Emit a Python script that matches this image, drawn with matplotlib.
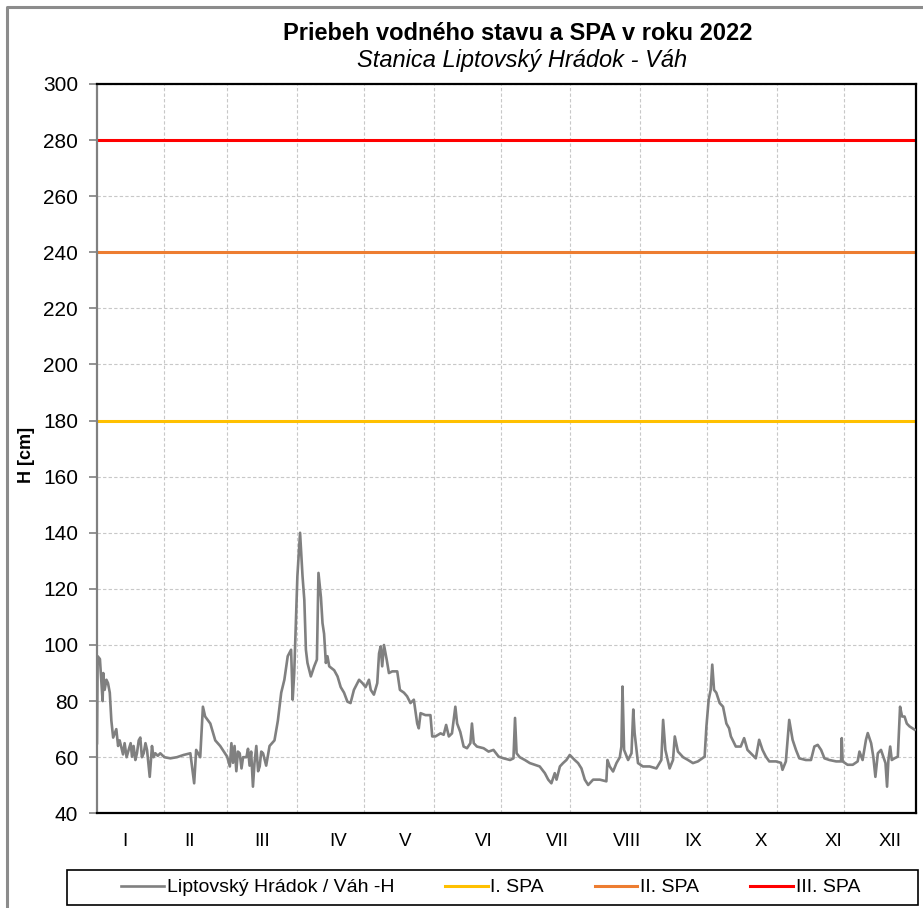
import matplotlib
matplotlib.use("Agg")
import matplotlib.pyplot as plt
from matplotlib.lines import Line2D
from matplotlib.patches import Rectangle

plt.rcParams['font.family'] = ['Liberation Sans', 'DejaVu Sans']

# day of year (Jan 1 = 0) and water level H [cm]
day = [1.0, 1.3, 2.3, 3.5, 3.8, 4.4, 5.2, 5.9, 6.7, 7.4, 8.2, 9.6, 10.4, 11.1, 12.6, 13.3,
       14.2, 15.1, 16.0, 16.6, 17.3, 18.1, 18.8, 19.6, 20.3, 21.0, 21.8, 22.6, 23.3, 24.5, 25.5,
       26.2, 27.0, 28.1, 29.2, 31.0,
       33.7, 36.6, 39.6, 42.6, 44.3, 45.2, 47.0, 48.2, 49.2, 51.5, 53.7, 55.9,
       59.0, 60.2, 60.9, 61.6, 62.3, 63.1, 63.8, 64.6, 65.4, 66.1, 67.6, 68.3, 69.0, 69.7,
       70.5, 71.2, 72.0, 72.8, 73.5, 74.2, 75.0, 76.4,
       77.9, 80.1, 81.6, 83.1, 84.5, 86.0, 87.5, 88.2, 88.9, 90.3, 91.5, 92.6,
       93.4, 94.1, 94.8, 96.3, 97.8, 99.0, 99.7, 100.8, 101.5, 102.2, 103.0,
       103.7, 104.5, 106.7, 108.2, 109.6, 111.1, 112.6, 114.0, 115.5, 117.8,
       119.3, 120.7, 122.2, 123.0, 124.4, 125.9, 126.7, 127.4, 128.1, 128.9,
       130.1, 131.1, 132.6, 134.8, 136.0, 137.8, 139.2, 140.7, 142.2, 143.7,
       144.4, 145.2, 147.4, 149.6, 150.4, 151.8, 154.1, 155.5, 156.6, 157.8,
       159.2, 160.7, 161.5, 162.9, 164.4, 165.9, 167.4, 168.1, 168.9, 170.3,
       173.3, 175.5, 177.7, 180.0, 182.2, 185.1, 186.6, 187.3, 188.0, 189.4,
       191.7, 193.9, 196.1, 198.3, 200.6, 202.1, 203.5, 205.0, 205.8, 207.3,
       208.7, 210.2, 211.7, 213.9, 215.4, 216.9, 218.4, 219.9, 222.1, 225.1,
       228.0, 228.5, 229.5, 231.0, 232.5, 234.0, 234.7, 235.2, 235.9, 237.7,
       239.2, 240.0, 240.6, 242.1, 244.3, 247.3, 250.3, 252.5, 253.3, 254.3,
       256.2, 257.7, 258.5, 259.9, 262.2, 264.4, 266.6, 268.8, 271.8, 272.6,
       273.6, 274.5, 275.2, 276.0, 277.0, 278.5, 280.0, 281.5, 282.7, 283.5,
       285.7, 287.9, 289.4, 290.9, 293.1, 294.6, 296.1, 297.6, 299.1, 300.6,
       303.6, 305.8, 306.5, 308.0, 309.5, 311.0, 312.5, 314.0, 316.9, 319.2,
       320.7, 322.2, 323.7, 325.2, 327.4, 330.4, 332.6, 332.9, 333.3, 335.5,
       337.8, 340.0, 340.8, 342.2, 343.7, 344.5, 346.0, 347.0, 347.9, 349.0,
       350.4, 351.5, 352.4, 353.1, 353.7, 354.5, 355.2, 356.4, 357.9, 358.9,
       359.8, 360.9, 361.9, 363.1, 365.4]
h = [65, 96, 95, 80, 90, 84, 87.6, 86.4, 83, 73, 67, 70, 64, 66, 61, 65,
     60, 62.6, 65, 60.2, 64, 59, 61.4, 66, 67, 60, 61.4, 65, 62.6, 53, 64,
     60, 61.4, 60.5, 61.4, 60,
     59.6, 60, 60.8, 61.4, 50.7, 62.6, 60, 78, 74.5, 72, 66, 64,
     60.2, 56.7, 65, 58, 64, 55, 62, 61.4, 56, 60, 60, 63, 57, 62,
     49.5, 58, 64, 55, 56.7, 62, 61.4, 57,
     64, 66, 73, 83, 87.6, 96, 98.3, 80.5, 90, 124.5, 140, 124.5,
     116, 98.3, 93.6, 88.8, 92.4, 94.8, 125.7, 117, 107.8, 104, 93.6,
     96, 92.4, 91, 88.8, 85, 83, 79.8, 79.3, 84, 87.6,
     86.4, 85, 87.6, 84, 82.3, 86.4, 97, 99.5, 92.4, 100,
     94.8, 90, 90.6, 90.6, 84, 83, 81.7, 79.3, 80.5, 72,
     70.3, 75.7, 75, 75, 67.4, 67.4, 68.5, 68, 71.5, 67.4,
     68.5, 78, 72, 69, 63.8, 63.2, 65, 72, 65, 63.8,
     63.2, 62, 62.6, 60.2, 59.6, 59, 59.6, 74, 61.4, 60,
     59, 57.9, 57.3, 56.7, 54.3, 52, 50.7, 54.3, 52, 56.7,
     57.9, 59, 60.8, 59, 57.9, 56, 52, 50.1, 52, 52,
     51.4, 59, 56.7, 54.9, 57.9, 60, 63.8, 85.2, 62.6, 59,
     61.4, 77, 68.6, 57.9, 56.7, 56.7, 56, 59, 73.3, 62.6,
     56, 59, 67.4, 62, 60, 59, 57.9, 58.5, 60.2, 71,
     80.5, 84, 93, 84, 83, 79.3, 78, 72, 70.3, 67.4,
     63.8, 63.8, 66.8, 62.6, 60.8, 59.6, 66.2, 62.6, 60.2, 58.5,
     58.5, 58, 55.5, 58.5, 73.3, 66.2, 62.6, 59.6, 59, 59,
     63.8, 64.4, 62.6, 59.6, 59, 58.5, 58.5, 66.8, 58.5, 57.3,
     57.3, 58.5, 62, 59, 66.2, 68.6, 65, 60, 53, 61.4,
     62.6, 60, 57.9, 49.5, 59, 63.8, 59, 59.6, 60.2, 78,
     74.5, 74.5, 72, 71, 69.8]

spa_names = ['I. SPA', 'II. SPA', 'III. SPA']
spa_levels = [180, 240, 280]
spa_colors = ['#FFC000', '#ED7D31', '#FF0000']

month_starts = [31, 59, 90, 120, 151, 181, 212, 243, 273, 304, 334]
month_labels = ['I', 'II', 'III', 'IV', 'V', 'VI', 'VII', 'VIII', 'IX', 'X', 'XI', 'XII']
label_pos = [13.5, 42.4, 74.8, 108.4, 138.3, 173.5, 206.4, 237.2, 266.6, 296.9, 329, 354.4]

fig = plt.figure(figsize=(9.23, 9.08), dpi=100)
ax = fig.add_axes([97 / 923, 1 - 813.3 / 908, 819 / 923, (813.3 - 84) / 908])

ax.plot(day, h, color='#808080', lw=1.9, label='Liptovský Hrádok / Váh -H', zorder=3)
for name, lev, col in zip(spa_names, spa_levels, spa_colors):
    ax.axhline(lev, color=col, lw=2.2, label=name, zorder=2)

ax.set_xlim(1, 366)
ax.set_ylim(40, 300)
ax.set_yticks(range(40, 301, 20))
ax.set_xticks(month_starts, minor=True)
ax.set_xticks(label_pos)
ax.set_xticklabels(month_labels)
ax.tick_params(axis='x', which='both', length=0, pad=14, labelsize=13.5)
ax.tick_params(axis='y', length=6, color='#808080', width=1.2, labelsize=15, pad=7.5)
ax.grid(True, axis='y', which='major', ls=(0, (3, 2)), color='#C8C8C8', lw=0.8)
ax.grid(True, axis='x', which='minor', ls=(0, (3, 2)), color='#C8C8C8', lw=0.8)

for s in ['top', 'right', 'bottom']:
    ax.spines[s].set_color('black')
    ax.spines[s].set_linewidth(1.6)
ax.spines['left'].set_color('#808080')
ax.spines['left'].set_linewidth(1.6)

ax.set_ylabel('H [cm]', fontsize=13, fontweight='bold', va='center')
ax.yaxis.set_label_coords(-0.086, 0.491)

fig.text(518 / 923, 1 - 33 / 908, 'Priebeh vodného stavu a SPA v roku 2022',
         ha='center', va='center', fontsize=17, fontweight='bold')
fig.text(522 / 923, 1 - 60 / 908, 'Stanica Liptovský Hrádok - Váh',
         ha='center', va='center', fontsize=17, style='italic')

# legend box
fig.add_artist(Rectangle((67 / 923, 1 - 905 / 908), 851 / 923, 35 / 908,
                         transform=fig.transFigure, fill=False,
                         edgecolor='black', lw=1.2))
leg = fig.legend(loc='center left', ncol=4, frameon=False,
                 bbox_to_anchor=(121 / 923, 1 - 887.5 / 908),
                 fontsize=14, handlelength=2.2, handletextpad=0.15,
                 columnspacing=2.6, borderaxespad=0, borderpad=0)

# outer chart border (left and top)
fig.add_artist(Line2D([7 / 923, 7 / 923, 1], [0, 1 - 7 / 908, 1 - 7 / 908],
                      color='#8C8C8C', lw=2.2))

fig.savefig('out.png', dpi=100)
